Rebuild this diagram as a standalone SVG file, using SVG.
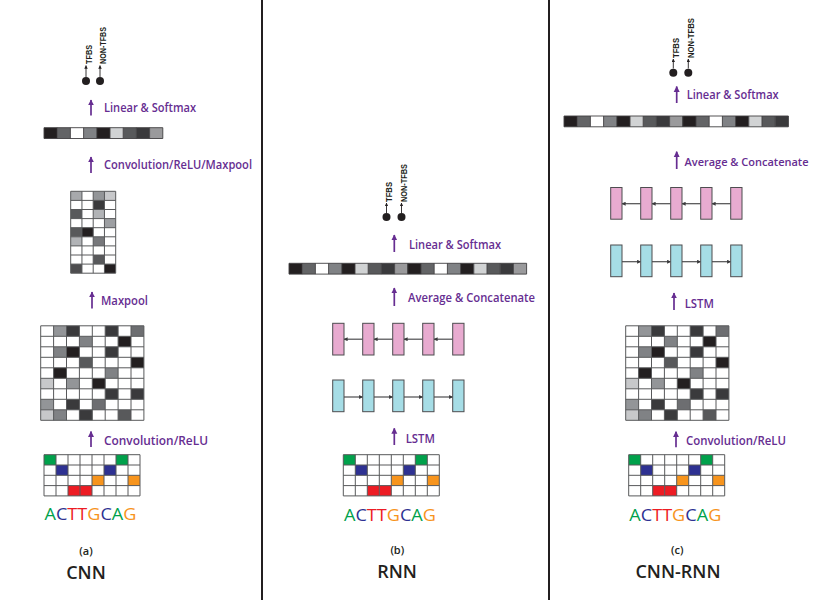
<svg xmlns="http://www.w3.org/2000/svg" xmlns:xlink="http://www.w3.org/1999/xlink" width="817" height="600" viewBox="0 0 817 600">
<style>
.lbl{font-family:"Open Sans","Liberation Sans",sans-serif;font-weight:600;font-size:12.5px;fill:#662d91}
.vl{font-family:"Liberation Sans",Arial,sans-serif;font-weight:bold;font-size:8.5px;fill:#231f20}
.seq{font-family:"Open Sans","Liberation Sans",sans-serif;font-size:17px}
.cap{font-family:"Open Sans","Liberation Sans",sans-serif;font-weight:600;font-size:11px;fill:#231f20;text-anchor:middle}
.ttl{font-family:"Open Sans","Liberation Sans",sans-serif;font-weight:600;font-size:18px;fill:#231f20;text-anchor:middle}
.gl{fill:none;stroke:#58595b;stroke-width:1}
.pa{stroke:#662d91;stroke-width:1.7;fill:none}
.ka{stroke:#231f20;stroke-width:0.9;fill:none}
.la{stroke:#4d4d4f;stroke-width:1.2;fill:none}
.pk{fill:#e8abd0;stroke:#4d4d4f;stroke-width:1}
.cy{fill:#a6dde6;stroke:#4d4d4f;stroke-width:1}
.sep{stroke:#231f20;stroke-width:2}
.w{fill:#ffffff}.b{fill:#231f20}.d1{fill:#3a3a3c}.d2{fill:#58595b}.d3{fill:#6d6e71}
.g1{fill:#808285}.g2{fill:#939598}.g3{fill:#a7a9ac}.l1{fill:#c7c8ca}.l2{fill:#d1d3d4}
.gA{fill:#00a14b}.cC{fill:#2e3192}.rT{fill:#ed1c24}.oG{fill:#f7941d}
.dot{fill:#231f20}
</style>
<defs>
<marker id="mp" viewBox="0 0 10 10" refX="9" refY="5" markerWidth="6" markerHeight="7" markerUnits="userSpaceOnUse" orient="auto"><path d="M0,0 L10,5 L0,10 z" fill="#662d91"/></marker>
<marker id="mk" viewBox="0 0 10 10" refX="9" refY="5" markerWidth="3.5" markerHeight="3.5" markerUnits="userSpaceOnUse" orient="auto"><path d="M0,0 L10,5 L0,10 z" fill="#231f20"/></marker>
<marker id="ml" viewBox="0 0 10 10" refX="9" refY="5" markerWidth="4" markerHeight="4" markerUnits="userSpaceOnUse" orient="auto"><path d="M0,0 L10,5 L0,10 z" fill="#3a3a3c"/></marker>
<g id="bar9">
<rect class="b" x="0" y="0" width="13.2" height="10.8"/><rect style="fill:#636466" x="13.2" y="0" width="13.2" height="10.8"/><rect class="w" x="26.4" y="0" width="13.2" height="10.8"/><rect class="g1" x="39.6" y="0" width="13.2" height="10.8"/><rect class="b" x="52.8" y="0" width="13.2" height="10.8"/><rect class="l2" x="66" y="0" width="13.2" height="10.8"/><rect class="d2" x="79.2" y="0" width="13.2" height="10.8"/><rect class="d1" x="92.4" y="0" width="13.2" height="10.8"/><rect style="fill:#9a9a9c" x="105.6" y="0" width="13.2" height="10.8"/>
<path d="M0 0H118.8M0 10.8H118.8M0 0V10.8M13.2 0V10.8M26.4 0V10.8M39.6 0V10.8M52.8 0V10.8M66 0V10.8M79.2 0V10.8M92.4 0V10.8M105.6 0V10.8M118.8 0V10.8" fill="none" stroke="#414042" stroke-width="0.9"/>
</g>
<g id="bigGrid">
<rect class="w" x="0" y="0" width="103.2" height="94.5"/>
<rect class="g2" x="12.9" y="0" width="12.9" height="10.5"/><rect class="d1" x="25.8" y="0" width="12.9" height="10.5"/><rect class="d1" x="64.5" y="0" width="12.9" height="10.5"/><rect class="d3" x="90.3" y="0" width="12.9" height="10.5"/>
<rect class="g1" x="38.7" y="10.5" width="12.9" height="10.5"/><rect class="b" x="77.4" y="10.5" width="12.9" height="10.5"/>
<rect class="g1" x="12.9" y="21" width="12.9" height="10.5"/><rect class="b" x="25.8" y="21" width="12.9" height="10.5"/><rect class="d1" x="64.5" y="21" width="12.9" height="10.5"/>
<rect class="d2" x="38.7" y="31.5" width="12.9" height="10.5"/><rect class="b" x="90.3" y="31.5" width="12.9" height="10.5"/>
<rect class="b" x="12.9" y="42" width="12.9" height="10.5"/><rect class="g1" x="64.5" y="42" width="12.9" height="10.5"/>
<rect class="l1" x="0" y="52.5" width="12.9" height="10.5"/><rect class="g2" x="25.8" y="52.5" width="12.9" height="10.5"/><rect class="b" x="51.6" y="52.5" width="12.9" height="10.5"/>
<rect class="d1" x="64.5" y="63" width="12.9" height="10.5"/><rect class="d1" x="90.3" y="63" width="12.9" height="10.5"/>
<rect class="g2" x="0" y="73.5" width="12.9" height="10.5"/><rect class="d1" x="25.8" y="73.5" width="12.9" height="10.5"/><rect class="d3" x="51.6" y="73.5" width="12.9" height="10.5"/>
<rect class="l1" x="0" y="84" width="12.9" height="10.5"/><rect class="g1" x="12.9" y="84" width="12.9" height="10.5"/><rect class="d1" x="38.7" y="84" width="12.9" height="10.5"/><rect class="d2" x="77.4" y="84" width="12.9" height="10.5"/>
<path class="gl" d="M0 0H103.2M0 10.5H103.2M0 21H103.2M0 31.5H103.2M0 42H103.2M0 52.5H103.2M0 63H103.2M0 73.5H103.2M0 84H103.2M0 94.5H103.2M0 0V94.5M12.9 0V94.5M25.8 0V94.5M38.7 0V94.5M51.6 0V94.5M64.5 0V94.5M77.4 0V94.5M90.3 0V94.5M103.2 0V94.5"/>
</g>
<g id="oneHot">
<rect class="w" x="0" y="0" width="96" height="41.2"/>
<rect class="gA" x="0" y="0" width="12" height="10.3"/><rect class="gA" x="72" y="0" width="12" height="10.3"/>
<rect class="cC" x="12" y="10.3" width="12" height="10.3"/><rect class="cC" x="60" y="10.3" width="12" height="10.3"/>
<rect class="oG" x="48" y="20.6" width="12" height="10.3"/><rect class="oG" x="84" y="20.6" width="12" height="10.3"/>
<rect class="rT" x="24" y="30.9" width="12" height="10.3"/><rect class="rT" x="36" y="30.9" width="12" height="10.3"/>
<path class="gl" d="M0 0H96M0 10.3H96M0 20.6H96M0 30.9H96M0 41.2H96M0 0V41.2M12 0V41.2M24 0V41.2M36 0V41.2M48 0V41.2M60 0V41.2M72 0V41.2M84 0V41.2M96 0V41.2"/>
</g>
<g id="seqText">
<text class="seq" x="0" y="0" textLength="92" lengthAdjust="spacingAndGlyphs"><tspan class="gA">A</tspan><tspan class="cC">C</tspan><tspan class="rT">T</tspan><tspan class="rT">T</tspan><tspan class="oG">G</tspan><tspan class="cC">C</tspan><tspan class="gA">A</tspan><tspan class="oG">G</tspan></text>
</g>
</defs>

<rect x="0" y="0" width="817" height="600" fill="#ffffff"/>

<g id="separators">
<line class="sep" x1="262" y1="0" x2="262" y2="600"/>
<line class="sep" x1="549" y1="0" x2="549" y2="600"/>
</g>

<g id="connectors">
<line class="ka" x1="86" y1="77" x2="86" y2="65.5" marker-end="url(#mk)"/>
<line class="ka" x1="100" y1="77" x2="100" y2="65.5" marker-end="url(#mk)"/>
<line class="ka" x1="386.5" y1="213" x2="386.5" y2="203" marker-end="url(#mk)"/>
<line class="ka" x1="401.5" y1="213" x2="401.5" y2="203" marker-end="url(#mk)"/>
<line class="ka" x1="673.3" y1="68.5" x2="673.3" y2="59" marker-end="url(#mk)"/>
<line class="ka" x1="688.3" y1="68.5" x2="688.3" y2="59" marker-end="url(#mk)"/>
<line class="pa" x1="91" y1="115.5" x2="91" y2="100" marker-end="url(#mp)"/>
<line class="pa" x1="91" y1="173" x2="91" y2="157" marker-end="url(#mp)"/>
<line class="pa" x1="92" y1="308.5" x2="92" y2="292" marker-end="url(#mp)"/>
<line class="pa" x1="91" y1="447" x2="91" y2="431.5" marker-end="url(#mp)"/>
<line class="pa" x1="394.3" y1="252" x2="394.3" y2="235" marker-end="url(#mp)"/>
<line class="pa" x1="394.3" y1="306" x2="394.3" y2="288" marker-end="url(#mp)"/>
<line class="pa" x1="394.3" y1="445" x2="394.3" y2="428.3" marker-end="url(#mp)"/>
<line class="pa" x1="676.7" y1="103" x2="676.7" y2="86.5" marker-end="url(#mp)"/>
<line class="pa" x1="676.7" y1="169" x2="676.7" y2="151.7" marker-end="url(#mp)"/>
<line class="pa" x1="674" y1="310" x2="674" y2="293" marker-end="url(#mp)"/>
<line class="pa" x1="676" y1="447.3" x2="676" y2="431.7" marker-end="url(#mp)"/>
<line class="la" x1="362.7" y1="339.2" x2="344" y2="339.2" marker-end="url(#ml)"/>
<line class="la" x1="392.7" y1="339.2" x2="374" y2="339.2" marker-end="url(#ml)"/>
<line class="la" x1="422.7" y1="339.2" x2="404" y2="339.2" marker-end="url(#ml)"/>
<line class="la" x1="452.7" y1="339.2" x2="434" y2="339.2" marker-end="url(#ml)"/>
<line class="la" x1="344" y1="397" x2="362.7" y2="397" marker-end="url(#ml)"/>
<line class="la" x1="374" y1="397" x2="392.7" y2="397" marker-end="url(#ml)"/>
<line class="la" x1="404" y1="397" x2="422.7" y2="397" marker-end="url(#ml)"/>
<line class="la" x1="434" y1="397" x2="452.7" y2="397" marker-end="url(#ml)"/>
<line class="la" x1="640.7" y1="203.7" x2="622" y2="203.7" marker-end="url(#ml)"/>
<line class="la" x1="670.7" y1="203.7" x2="652" y2="203.7" marker-end="url(#ml)"/>
<line class="la" x1="700.7" y1="203.7" x2="682" y2="203.7" marker-end="url(#ml)"/>
<line class="la" x1="730.7" y1="203.7" x2="712" y2="203.7" marker-end="url(#ml)"/>
<line class="la" x1="622" y1="261.7" x2="640.7" y2="261.7" marker-end="url(#ml)"/>
<line class="la" x1="652" y1="261.7" x2="670.7" y2="261.7" marker-end="url(#ml)"/>
<line class="la" x1="682" y1="261.7" x2="700.7" y2="261.7" marker-end="url(#ml)"/>
<line class="la" x1="712" y1="261.7" x2="730.7" y2="261.7" marker-end="url(#ml)"/>
</g>

<!-- ===== CNN ===== -->
<g id="cnn-output">
<circle class="dot" cx="86" cy="81" r="4"/>
<circle class="dot" cx="100" cy="81" r="4"/>
<text class="vl" transform="translate(91.8,64) rotate(-90)" textLength="19" lengthAdjust="spacingAndGlyphs">TFBS</text>
<text class="vl" transform="translate(105.8,64) rotate(-90)" textLength="37" lengthAdjust="spacingAndGlyphs">NON-TFBS</text>
</g>
<g id="cnn-label-linear"><text class="lbl" x="104" y="112" textLength="92" lengthAdjust="spacingAndGlyphs">Linear &amp; Softmax</text></g>
<g id="cnn-features"><use xlink:href="#bar9" href="#bar9" transform="translate(44,127.7)"/></g>
<g id="cnn-label-conv2"><text class="lbl" x="104" y="169" textLength="148" lengthAdjust="spacingAndGlyphs">Convolution/ReLU/Maxpool</text></g>
<g id="cnn-pooled2" transform="translate(70.7,191.3)">
<rect class="w" x="0" y="0" width="45" height="81.9"/>
<rect class="g3" x="0" y="0" width="11.25" height="9.1"/><rect class="g2" x="22.5" y="0" width="11.25" height="9.1"/><rect class="l1" x="33.75" y="0" width="11.25" height="9.1"/>
<rect class="d1" x="22.5" y="9.1" width="11.25" height="9.1"/>
<rect class="d2" x="0" y="18.2" width="11.25" height="9.1"/><rect style="fill:#b1b3b6" x="22.5" y="18.2" width="11.25" height="9.1"/>
<rect style="fill:#9d9fa2" x="33.75" y="27.3" width="11.25" height="9.1"/>
<rect class="d2" x="0" y="36.4" width="11.25" height="9.1"/><rect class="b" x="11.25" y="36.4" width="11.25" height="9.1"/>
<rect style="fill:#b1b3b6" x="0" y="45.5" width="11.25" height="9.1"/><rect style="fill:#77787b" x="22.5" y="45.5" width="11.25" height="9.1"/>
<rect class="d2" x="22.5" y="63.7" width="11.25" height="9.1"/>
<rect style="fill:#4d4d4f" x="0" y="72.8" width="11.25" height="9.1"/><rect class="b" x="33.75" y="72.8" width="11.25" height="9.1"/>
<path class="gl" d="M0 0H45M0 9.1H45M0 18.2H45M0 27.3H45M0 36.4H45M0 45.5H45M0 54.6H45M0 63.7H45M0 72.8H45M0 81.9H45M0 0V81.9M11.25 0V81.9M22.5 0V81.9M33.75 0V81.9M45 0V81.9"/>
</g>
<g id="cnn-label-maxpool"><text class="lbl" x="101" y="305" textLength="47" lengthAdjust="spacingAndGlyphs">Maxpool</text></g>
<g id="cnn-conv1"><use xlink:href="#bigGrid" href="#bigGrid" transform="translate(40.7,325.8)"/></g>
<g id="cnn-label-conv1"><text class="lbl" x="104" y="445" textLength="104" lengthAdjust="spacingAndGlyphs">Convolution/ReLU</text></g>
<g id="cnn-onehot"><use xlink:href="#oneHot" href="#oneHot" transform="translate(44,454.7)"/></g>
<g id="cnn-seq"><use xlink:href="#seqText" href="#seqText" transform="translate(44.5,520)"/></g>
<g id="cnn-title">
<text class="cap" x="86" y="555">(a)</text>
<text class="ttl" x="86" y="579">CNN</text>
</g>

<!-- ===== RNN ===== -->
<g id="rnn-output">
<circle class="dot" cx="386.5" cy="217" r="4"/>
<circle class="dot" cx="401.5" cy="217" r="4"/>
<text class="vl" transform="translate(392.3,202) rotate(-90)" textLength="20" lengthAdjust="spacingAndGlyphs">TFBS</text>
<text class="vl" transform="translate(407.3,202) rotate(-90)" textLength="38" lengthAdjust="spacingAndGlyphs">NON-TFBS</text>
</g>
<g id="rnn-label-linear"><text class="lbl" x="409" y="248.5" textLength="92" lengthAdjust="spacingAndGlyphs">Linear &amp; Softmax</text></g>
<g id="rnn-features">
<use xlink:href="#bar9" href="#bar9" transform="translate(289,263.3)"/>
<use xlink:href="#bar9" href="#bar9" transform="translate(407.8,263.3)"/>
</g>
<g id="rnn-label-avg"><text class="lbl" x="408" y="302" textLength="127" lengthAdjust="spacingAndGlyphs">Average &amp; Concatenate</text></g>
<g id="rnn-lstm-backward">
<rect class="pk" x="332.7" y="323.3" width="11.3" height="31.7"/>
<rect class="pk" x="362.7" y="323.3" width="11.3" height="31.7"/>
<rect class="pk" x="392.7" y="323.3" width="11.3" height="31.7"/>
<rect class="pk" x="422.7" y="323.3" width="11.3" height="31.7"/>
<rect class="pk" x="452.7" y="323.3" width="11.3" height="31.7"/>
</g>
<g id="rnn-lstm-forward">
<rect class="cy" x="332.7" y="380" width="11.3" height="31.7"/>
<rect class="cy" x="362.7" y="380" width="11.3" height="31.7"/>
<rect class="cy" x="392.7" y="380" width="11.3" height="31.7"/>
<rect class="cy" x="422.7" y="380" width="11.3" height="31.7"/>
<rect class="cy" x="452.7" y="380" width="11.3" height="31.7"/>
</g>
<g id="rnn-label-lstm"><text class="lbl" x="405.7" y="442.7" textLength="29.3" lengthAdjust="spacingAndGlyphs">LSTM</text></g>
<g id="rnn-onehot"><use xlink:href="#oneHot" href="#oneHot" transform="translate(343.3,454.7)"/></g>
<g id="rnn-seq"><use xlink:href="#seqText" href="#seqText" transform="translate(344,520.5)"/></g>
<g id="rnn-title">
<text class="cap" x="397.3" y="554">(b)</text>
<text class="ttl" x="397" y="577.5">RNN</text>
</g>

<!-- ===== CNN-RNN ===== -->
<g id="cnnrnn-output">
<circle class="dot" cx="673.3" cy="72.7" r="4"/>
<circle class="dot" cx="688.3" cy="72.7" r="4"/>
<text class="vl" transform="translate(679.3,58) rotate(-90)" textLength="20" lengthAdjust="spacingAndGlyphs">TFBS</text>
<text class="vl" transform="translate(694.3,58) rotate(-90)" textLength="40" lengthAdjust="spacingAndGlyphs">NON-TFBS</text>
</g>
<g id="cnnrnn-label-linear"><text class="lbl" x="686.7" y="99" textLength="92" lengthAdjust="spacingAndGlyphs">Linear &amp; Softmax</text></g>
<g id="cnnrnn-features">
<use xlink:href="#bar9" href="#bar9" transform="translate(564,116)"/>
<g transform="translate(682.8,116)">
<rect class="b" x="0" y="0" width="13.2" height="10.8"/><rect style="fill:#636466" x="13.2" y="0" width="13.2" height="10.8"/><rect class="w" x="26.4" y="0" width="13.2" height="10.8"/><rect class="g1" x="39.6" y="0" width="13.2" height="10.8"/><rect class="b" x="52.8" y="0" width="13.2" height="10.8"/><rect class="l2" x="66" y="0" width="13.2" height="10.8"/><rect class="d2" x="79.2" y="0" width="13.2" height="10.8"/><rect class="d1" x="92.4" y="0" width="13.2" height="10.8"/>
<path d="M0 0H105.6M0 10.8H105.6M0 0V10.8M13.2 0V10.8M26.4 0V10.8M39.6 0V10.8M52.8 0V10.8M66 0V10.8M79.2 0V10.8M92.4 0V10.8M105.6 0V10.8" fill="none" stroke="#414042" stroke-width="0.9"/>
</g>
</g>
<g id="cnnrnn-label-avg"><text class="lbl" x="684.5" y="165.7" style="font-size:11.2px" textLength="124" lengthAdjust="spacingAndGlyphs">Average &amp; Concatenate</text></g>
<g id="cnnrnn-lstm-backward">
<rect class="pk" x="610.7" y="187.5" width="11.3" height="31.7"/>
<rect class="pk" x="640.7" y="187.5" width="11.3" height="31.7"/>
<rect class="pk" x="670.7" y="187.5" width="11.3" height="31.7"/>
<rect class="pk" x="700.7" y="187.5" width="11.3" height="31.7"/>
<rect class="pk" x="730.7" y="187.5" width="11.3" height="31.7"/>
</g>
<g id="cnnrnn-lstm-forward">
<rect class="cy" x="610.7" y="245" width="11.3" height="31.7"/>
<rect class="cy" x="640.7" y="245" width="11.3" height="31.7"/>
<rect class="cy" x="670.7" y="245" width="11.3" height="31.7"/>
<rect class="cy" x="700.7" y="245" width="11.3" height="31.7"/>
<rect class="cy" x="730.7" y="245" width="11.3" height="31.7"/>
</g>
<g id="cnnrnn-label-lstm"><text class="lbl" x="684.7" y="308.3" textLength="29.3" lengthAdjust="spacingAndGlyphs">LSTM</text></g>
<g id="cnnrnn-conv"><use xlink:href="#bigGrid" href="#bigGrid" transform="translate(625.7,325.8)"/></g>
<g id="cnnrnn-label-conv"><text class="lbl" x="686" y="445" textLength="100" lengthAdjust="spacingAndGlyphs">Convolution/ReLU</text></g>
<g id="cnnrnn-onehot"><use xlink:href="#oneHot" href="#oneHot" transform="translate(628.7,454.7)"/></g>
<g id="cnnrnn-seq"><use xlink:href="#seqText" href="#seqText" transform="translate(629.3,520.5)"/></g>
<g id="cnnrnn-title">
<text class="cap" x="677.3" y="554">(c)</text>
<text class="ttl" x="678" y="577.5">CNN-RNN</text>
</g>
</svg>
